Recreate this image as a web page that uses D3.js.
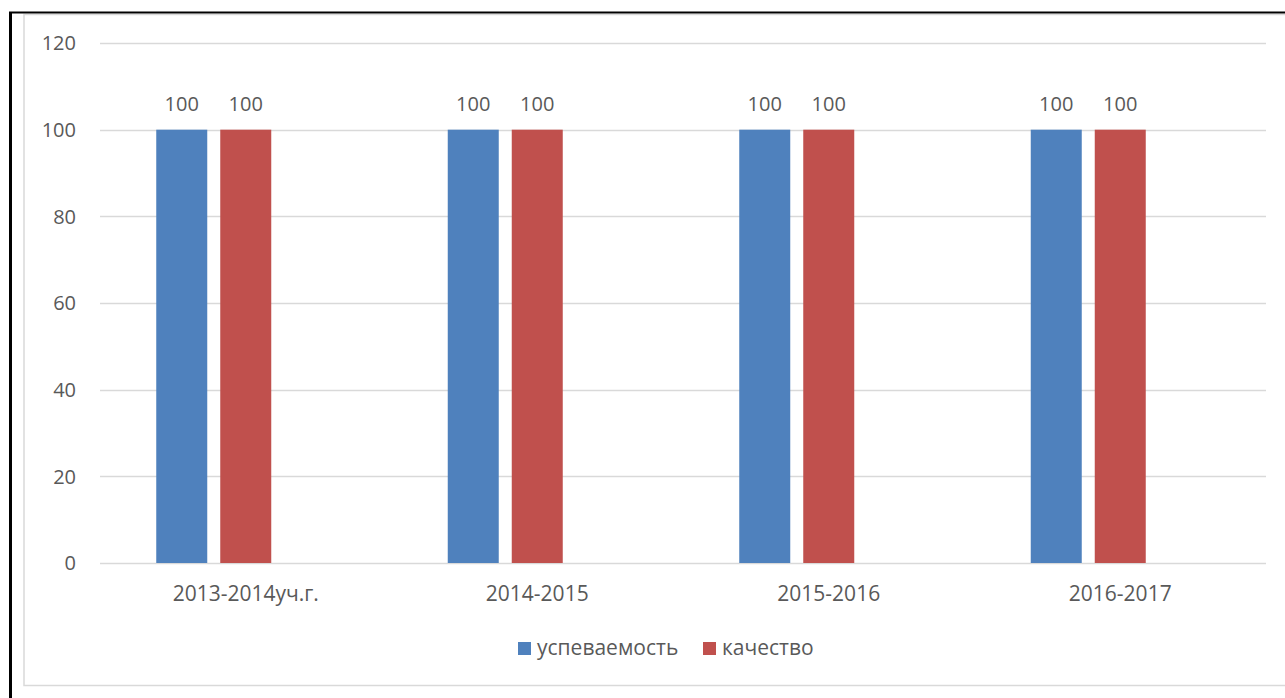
<!DOCTYPE html>
<meta charset="utf-8">
<script src="https://d3js.org/d3.v7.min.js"></script>
<style>
  body { margin: 0; background: #fff; }
  text { font-family: "Open Sans", Lato, sans-serif; fill: #595959; }
</style>
<div id="chart"></div>
<script>
// data
var categories = ["2013-2014уч.г.", "2014-2015", "2015-2016", "2016-2017"];
var seriesNames = ["успеваемость", "качество"];
var uspevaemost = [100, 100, 100, 100];
var kachestvo = [100, 100, 100, 100];
var yTicks = [0, 20, 40, 60, 80, 100, 120];
var colors = ["#4f81bd", "#c0504d"];

var W = 1285, H = 698;
var svg = d3.select("#chart").append("svg")
    .attr("width", W)
    .attr("height", H);

// frame: black outer edge + light gray chart border
svg.append("rect")
    .attr("x", 24).attr("y", 14.5)
    .attr("width", W + 10).attr("height", 671)
    .attr("fill", "none")
    .attr("stroke", "#d9d9d9")
    .attr("stroke-width", 1.5);
svg.append("line")
    .attr("x1", 9).attr("x2", W).attr("y1", 12.5).attr("y2", 12.5)
    .attr("stroke", "#000").attr("stroke-width", 2);
svg.append("line")
    .attr("x1", 10.5).attr("x2", 10.5).attr("y1", 12).attr("y2", H)
    .attr("stroke", "#000").attr("stroke-width", 3);

var plotL = 100, plotR = 1266, plotT = 43, plotB = 563;

var x = d3.scaleBand()
    .domain(categories)
    .range([plotL, plotR]);

// Excel leaves a third (empty) slot in each group
var x1 = d3.scaleBand()
    .domain([0, 1, 2])
    .range([56.25, x.bandwidth() - 56.25])
    .paddingInner(13 / 64);

var y = d3.scaleLinear()
    .domain([0, 120])
    .range([plotB, plotT]);

// gridlines
svg.append("g").selectAll("line")
  .data(yTicks)
  .enter()
  .append("line")
    .attr("x1", plotL).attr("x2", plotR)
    .attr("y1", function(d) { return Math.round(y(d)) + 0.5; })
    .attr("y2", function(d) { return Math.round(y(d)) + 0.5; })
    .attr("stroke", "#d9d9d9")
    .attr("stroke-width", 1.5);

// y tick labels
svg.append("g").selectAll("text")
  .data(yTicks)
  .enter()
  .append("text")
    .attr("x", 76)
    .attr("y", function(d) { return y(d); })
    .attr("dy", "0.36em")
    .attr("text-anchor", "end")
    .style("font-size", "20px")
    .text(function(d) { return d; });

// bars
var series = [uspevaemost, kachestvo];
series.forEach(function(vals, s) {
  var g = svg.append("g");
  g.selectAll("rect")
    .data(vals)
    .enter()
    .append("rect")
      .attr("x", function(d, i) { return x(categories[i]) + x1(s); })
      .attr("y", function(d) { return y(d); })
      .attr("width", x1.bandwidth())
      .attr("height", function(d) { return y(0) - y(d); })
      .attr("fill", colors[s]);
  g.selectAll("text")
    .data(vals)
    .enter()
    .append("text")
      .attr("x", function(d, i) { return x(categories[i]) + x1(s) + x1.bandwidth() / 2; })
      .attr("y", function(d) { return y(d) - 26; })
      .attr("dy", "0.36em")
      .attr("text-anchor", "middle")
      .style("font-size", "20px")
      .text(function(d) { return d; });
});

// category labels
svg.append("g").selectAll("text")
  .data(categories)
  .enter()
  .append("text")
    .attr("x", function(d) { return x(d) + x.bandwidth() / 2; })
    .attr("y", 593)
    .attr("dy", "0.36em")
    .attr("text-anchor", "middle")
    .style("font-size", "21px")
    .text(function(d) { return d; });

// legend
var legendX = [518, 703];
seriesNames.forEach(function(name, s) {
  svg.append("rect")
    .attr("x", legendX[s]).attr("y", 642)
    .attr("width", 13).attr("height", 13)
    .attr("fill", colors[s]);
  svg.append("text")
    .attr("x", legendX[s] + 19).attr("y", 647)
    .attr("dy", "0.36em")
    .style("font-size", "21px")
    .text(name);
});
</script>
